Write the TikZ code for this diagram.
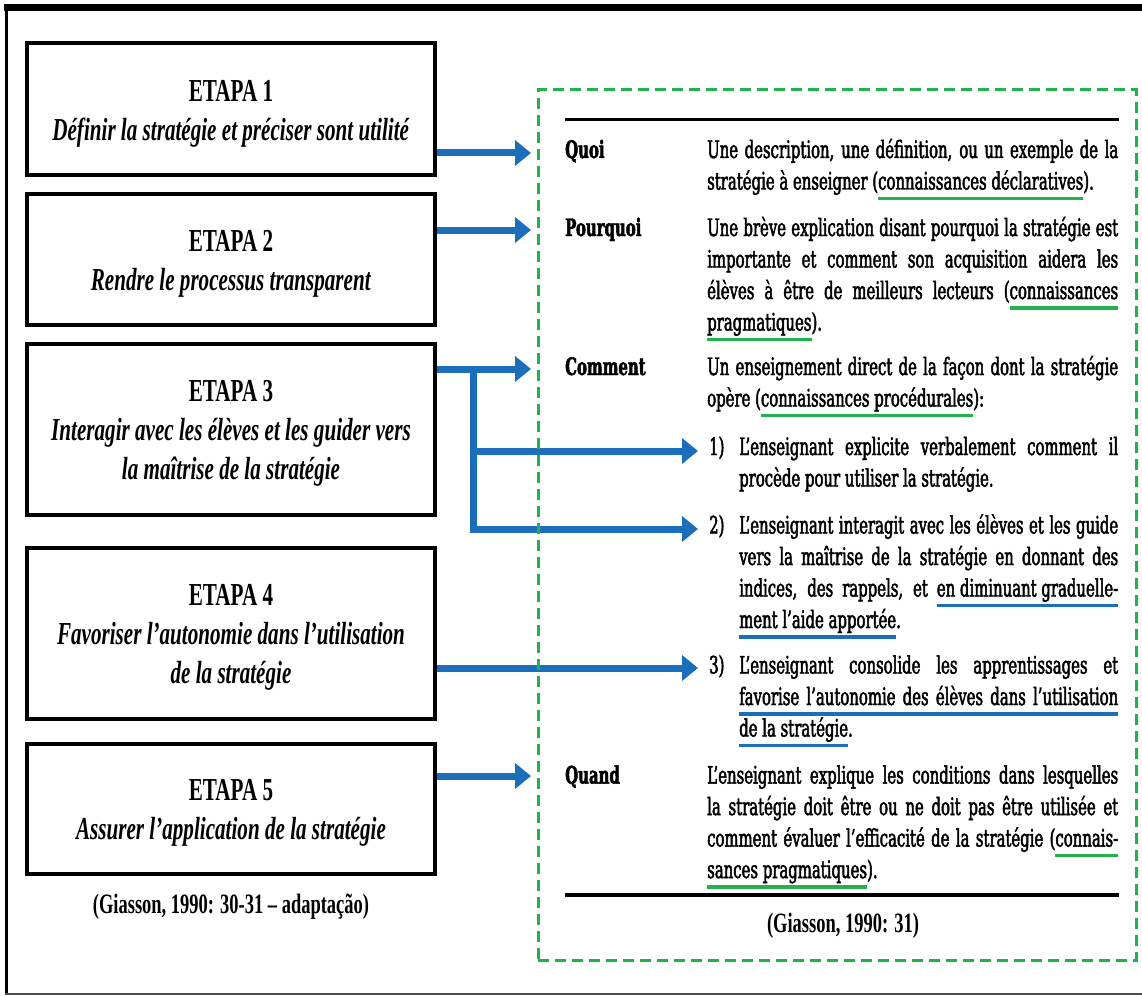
\documentclass[tikz,border=0pt]{standalone}
\usepackage{fontspec}
\setmainfont{Liberation Serif}
\newfontfamily\lfont[FakeStretch=0.66]{Liberation Serif}
\newfontfamily\rfont[FakeStretch=0.62,FakeBold=2]{DejaVu Serif}
\usetikzlibrary{arrows.meta}
\definecolor{ugreen}{RGB}{34,177,76}
\definecolor{ublue}{RGB}{27,111,186}
\newsavebox\ulbox
\newcommand\ulcol[2]{\sbox\ulbox{#2}\rlap{\textcolor{#1}{\rule[-10.75pt]{\wd\ulbox}{3.5pt}}}\usebox\ulbox}
\newcommand\ulgreen[1]{\ulcol{ugreen}{#1}}
\newcommand\ulblue[1]{\ulcol{ublue}{#1}}
\newcommand\jus[1]{\makebox[411pt][s]{#1}}
\newcommand\jui[1]{\makebox[379pt][s]{#1}}
\newcommand\bit[1]{\textbf{\textit{#1}}}
\tikzset{
  stepbox/.style={draw, line width=4pt, minimum width=408pt, inner sep=0pt, align=center,
    font=\lfont\fontsize{32}{39}\selectfont},
  arr/.style={draw=ublue, line width=7pt, -{Triangle[length=16pt,width=25pt]}},
  rt/.style={inner sep=0pt, anchor=base west, font=\rfont\fontsize{24}{31.5}\selectfont},
  lab/.style={rt, font=\rfont\bfseries\fontsize{24}{31.5}\selectfont},
  cite/.style={inner sep=0pt, anchor=base, font=\lfont\bfseries\fontsize{28}{34}\selectfont},
}
\begin{document}
\begin{tikzpicture}[x=1pt,y=-1pt]
\useasboundingbox (0,0) rectangle (1142,995);
% outer frame
\draw[line width=7pt] (3.5,7.5) -- (1142,7.5);
\draw[line width=3.5pt] (6.5,4) -- (6.5,995);
\draw[line width=2pt, black!70] (5,993.5) -- (1142,993.5);

% left boxes
\node[stepbox, minimum height=131.5pt] (b1) at (231,109.25)
  {\rule{0pt}{29.6pt}\textbf{ETAPA 1}\\\bit{Définir la stratégie et préciser sont utilité}};
\node[stepbox, minimum height=131pt] (b2) at (231,259.5)
  {\rule{0pt}{29.6pt}\textbf{ETAPA 2}\\\bit{Rendre le processus transparent}};
\node[stepbox, minimum height=171pt] (b3) at (231,429.5)
  {\rule{0pt}{29.6pt}\textbf{ETAPA 3}\\\bit{Interagir avec les élèves et les guider vers}\\\bit{la maîtrise de la stratégie}};
\node[stepbox, minimum height=171pt] (b4) at (231,633.5)
  {\rule{0pt}{29.6pt}\textbf{ETAPA 4}\\\bit{Favoriser l’autonomie dans l’utilisation}\\\bit{de la stratégie}};
\node[stepbox, minimum height=130pt] (b5) at (231,809)
  {\rule{0pt}{29.6pt}\textbf{ETAPA 5}\\\bit{Assurer l’application de la stratégie}};
\node[cite] (cl) at (231,913) {(Giasson, 1990: 30-31 – adaptação)};

% right panel
\draw[line width=3pt] (565,120) -- (1119,120);
\draw[line width=3.5pt] (565,895) -- (1119,895);

\node[lab] (lq) at (565,158) {Quoi};
\node[rt] (q1) at (707,158) {\jus{Une description, une définition, ou un exemple de la}};
\node[rt] (q2) at (707,189.5) {stratégie à enseigner (\ulgreen{connaissances déclaratives}).};

\node[lab] (lp) at (565,236) {Pourquoi};
\node[rt] (p1) at (707,236) {\jus{Une brève explication disant pourquoi la stratégie est}};
\node[rt] (p2) at (707,267.5) {\jus{importante et comment son acquisition aidera les}};
\node[rt] (p3) at (707,299) {\jus{élèves à être de meilleurs lecteurs (\ulgreen{connaissances}}};
\node[rt] (p4) at (707,330.5) {\ulgreen{pragmatiques}).};

\node[lab] (lc) at (565,375) {Comment};
\node[rt] (m1) at (707,375) {\jus{Un enseignement direct de la façon dont la stratégie}};
\node[rt] (m2) at (707,406.5) {opère (\ulgreen{connaissances procédurales}):};

\node[rt] (n1) at (709,455) {1)};
\node[rt] (i11) at (739,455) {\jui{L’enseignant explicite verbalement comment il}};
\node[rt] (i12) at (739,486.5) {procède pour utiliser la stratégie.};

\node[rt] (n2) at (709,533.5) {2)};
\node[rt] (i21) at (739,533.5) {\jui{L’enseignant interagit avec les élèves et les guide}};
\node[rt] (i22) at (739,565) {\jui{vers la maîtrise de la stratégie en donnant des}};
\node[rt] (i23) at (739,596.5) {\jui{indices, des rappels, et \ulblue{en diminuant graduelle-}}};
\node[rt] (i24) at (739,628) {\ulblue{ment l’aide apportée}.};

\node[rt] (n3) at (709,673.5) {3)};
\node[rt] (i31) at (739,673.5) {\jui{L’enseignant consolide les apprentissages et}};
\node[rt] (i32) at (739,705) {\ulblue{\jui{favorise l’autonomie des élèves dans l’utilisation}}};
\node[rt] (i33) at (739,736.5) {\ulblue{de la stratégie}.};

\node[lab] (lw) at (565,783.5) {Quand};
\node[rt] (w1) at (707,783.5) {\jus{L’enseignant explique les conditions dans lesquelles}};
\node[rt] (w2) at (707,815) {\jus{la stratégie doit être ou ne doit pas être utilisée et}};
\node[rt] (w3) at (707,846.5) {\jus{comment évaluer l’efficacité de la stratégie (\ulgreen{connais-}}};
\node[rt] (w4) at (707,878) {\ulgreen{sances pragmatiques}).};

\node[cite] (cr) at (843,932) {(Giasson, 1990: 31)};

% arrows
\coordinate (t1) at (531,153);
\coordinate (t2) at (531,230);
\coordinate (t3) at (531,369);
\coordinate (j3) at (473,369);
\coordinate (t31) at (698,451);
\coordinate (t32) at (698,529);
\coordinate (t4) at (698,668);
\coordinate (t5) at (531,776);
\draw[arr] (b1.east |- t1) -- (t1);
\draw[arr] (b2.east |- t2) -- (t2);
\draw[arr] (b3.east |- t3) -- (t3);
\draw[arr] (j3) |- (t31);
\draw[arr] (j3) |- (t32);
\draw[arr] (b4.east |- t4) -- (t4);
\draw[arr] (b5.east |- t5) -- (t5);

% green dashed frame
\node[draw=ugreen, line width=3pt, dash pattern=on 11pt off 6pt, minimum width=598pt,
  minimum height=870pt, inner sep=0pt] (frame) at (837,525) {};
\end{tikzpicture}
\end{document}
